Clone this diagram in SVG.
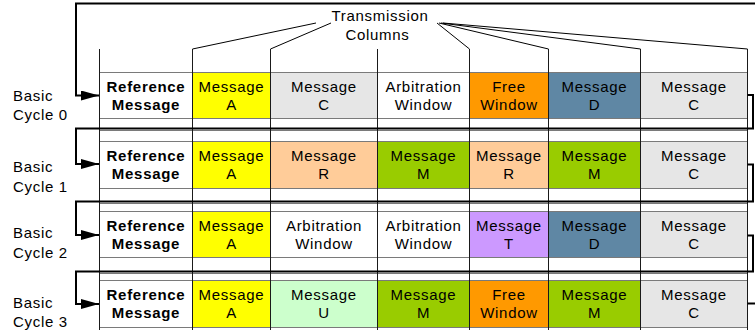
<svg xmlns="http://www.w3.org/2000/svg" width="755" height="330" viewBox="0 0 755 330">
  <style>
    text { font-family: "Liberation Sans", Arial, sans-serif; font-size: 15px; letter-spacing: 0.7px; fill: #000; }
    .c { text-anchor: middle; }
    .b { font-weight: bold; }
    .cell { stroke: #7a7a7a; stroke-width: 1; }
    .grid { stroke: #7a7a7a; stroke-width: 1; fill: none; }
    .col { stroke: #1a1a1a; stroke-width: 1; fill: none; }
    .lead { stroke: #000; stroke-width: 1; fill: none; }
    .loop { stroke: #000; stroke-width: 2; fill: none; }
    .white { fill: #ffffff; }
    .yellow { fill: #ffff00; }
    .grey { fill: #e6e6e6; }
    .orange { fill: #ff9900; }
    .blue { fill: #5f87a4; }
    .peach { fill: #ffcc99; }
    .green { fill: #99cc00; }
    .lilac { fill: #cc99ff; }
    .mint { fill: #ccffcc; }
  </style>
  <defs>
    <marker id="arrow" markerUnits="userSpaceOnUse" markerWidth="18" markerHeight="10" refX="18" refY="5" orient="auto">
      <path d="M0,0 L18,5 L0,10 z" fill="#000"/>
    </marker>
  </defs>

  <rect width="755" height="330" fill="#fff"/>

  <!-- row strips: horizontal borders of every cycle row -->
  <g id="rowlines">
    <line class="grid" x1="99.5" y1="118.5" x2="747.5" y2="118.5"/>
    <line class="grid" x1="99.5" y1="130.5" x2="747.5" y2="130.5"/>
    <line class="grid" x1="99.5" y1="188.5" x2="747.5" y2="188.5"/>
    <line class="grid" x1="99.5" y1="203.5" x2="747.5" y2="203.5"/>
    <line class="grid" x1="99.5" y1="257.5" x2="747.5" y2="257.5"/>
    <line class="grid" x1="99.5" y1="273.5" x2="747.5" y2="273.5"/>
  </g>

  <!-- Basic cycle 0 -->
  <g id="cycle0">
    <text x="13" y="100.7">Basic</text>
    <text x="13" y="120">Cycle 0</text>
    <g id="c0-ref"><rect class="cell white" x="99.5" y="72.5" width="93" height="46"/><text class="c b" x="146" y="91.5">Reference</text><text class="c b" x="146" y="110">Message</text></g>
    <g id="c0-a"><rect class="cell yellow" x="192.5" y="72.5" width="78" height="46"/><text class="c" x="231.5" y="91.5">Message</text><text class="c" x="231.5" y="110">A</text></g>
    <g id="c0-c"><rect class="cell grey" x="270.5" y="72.5" width="107" height="46"/><text class="c" x="324" y="91.5">Message</text><text class="c" x="324" y="110">C</text></g>
    <g id="c0-arb"><rect class="cell white" x="377.5" y="72.5" width="92" height="46"/><text class="c" x="423.5" y="91.5">Arbitration</text><text class="c" x="423.5" y="110">Window</text></g>
    <g id="c0-free"><rect class="cell orange" x="469.5" y="72.5" width="79" height="46"/><text class="c" x="509" y="91.5">Free</text><text class="c" x="509" y="110">Window</text></g>
    <g id="c0-d"><rect class="cell blue" x="548.5" y="72.5" width="92" height="46"/><text class="c" x="594.5" y="91.5">Message</text><text class="c" x="594.5" y="110">D</text></g>
    <g id="c0-c2"><rect class="cell grey" x="640.5" y="72.5" width="107" height="46"/><text class="c" x="694" y="91.5">Message</text><text class="c" x="694" y="110">C</text></g>
  </g>

  <!-- Basic cycle 1 -->
  <g id="cycle1">
    <text x="13" y="172.3">Basic</text>
    <text x="13" y="191.7">Cycle 1</text>
    <g id="c1-ref"><rect class="cell white" x="99.5" y="141.5" width="93" height="47"/><text class="c b" x="146" y="160.5">Reference</text><text class="c b" x="146" y="179.3">Message</text></g>
    <g id="c1-a"><rect class="cell yellow" x="192.5" y="141.5" width="78" height="47"/><text class="c" x="231.5" y="160.5">Message</text><text class="c" x="231.5" y="179.3">A</text></g>
    <g id="c1-r"><rect class="cell peach" x="270.5" y="141.5" width="107" height="47"/><text class="c" x="324" y="160.5">Message</text><text class="c" x="324" y="179.3">R</text></g>
    <g id="c1-m"><rect class="cell green" x="377.5" y="141.5" width="92" height="47"/><text class="c" x="423.5" y="160.5">Message</text><text class="c" x="423.5" y="179.3">M</text></g>
    <g id="c1-r2"><rect class="cell peach" x="469.5" y="141.5" width="79" height="47"/><text class="c" x="509" y="160.5">Message</text><text class="c" x="509" y="179.3">R</text></g>
    <g id="c1-m2"><rect class="cell green" x="548.5" y="141.5" width="92" height="47"/><text class="c" x="594.5" y="160.5">Message</text><text class="c" x="594.5" y="179.3">M</text></g>
    <g id="c1-c"><rect class="cell grey" x="640.5" y="141.5" width="107" height="47"/><text class="c" x="694" y="160.5">Message</text><text class="c" x="694" y="179.3">C</text></g>
  </g>

  <!-- Basic cycle 2 -->
  <g id="cycle2">
    <text x="13" y="238.3">Basic</text>
    <text x="13" y="257.7">Cycle 2</text>
    <g id="c2-ref"><rect class="cell white" x="99.5" y="211.5" width="93" height="46"/><text class="c b" x="146" y="230.5">Reference</text><text class="c b" x="146" y="249">Message</text></g>
    <g id="c2-a"><rect class="cell yellow" x="192.5" y="211.5" width="78" height="46"/><text class="c" x="231.5" y="230.5">Message</text><text class="c" x="231.5" y="249">A</text></g>
    <g id="c2-arb"><rect class="cell white" x="270.5" y="211.5" width="107" height="46"/><text class="c" x="324" y="230.5">Arbitration</text><text class="c" x="324" y="249">Window</text></g>
    <g id="c2-arb2"><rect class="cell white" x="377.5" y="211.5" width="92" height="46"/><text class="c" x="423.5" y="230.5">Arbitration</text><text class="c" x="423.5" y="249">Window</text></g>
    <g id="c2-t"><rect class="cell lilac" x="469.5" y="211.5" width="79" height="46"/><text class="c" x="509" y="230.5">Message</text><text class="c" x="509" y="249">T</text></g>
    <g id="c2-d"><rect class="cell blue" x="548.5" y="211.5" width="92" height="46"/><text class="c" x="594.5" y="230.5">Message</text><text class="c" x="594.5" y="249">D</text></g>
    <g id="c2-c"><rect class="cell grey" x="640.5" y="211.5" width="107" height="46"/><text class="c" x="694" y="230.5">Message</text><text class="c" x="694" y="249">C</text></g>
  </g>

  <!-- Basic cycle 3 -->
  <g id="cycle3">
    <text x="13" y="307.7">Basic</text>
    <text x="13" y="327">Cycle 3</text>
    <g id="c3-ref"><rect class="cell white" x="99.5" y="280.5" width="93" height="47"/><text class="c b" x="146" y="299.5">Reference</text><text class="c b" x="146" y="318.3">Message</text></g>
    <g id="c3-a"><rect class="cell yellow" x="192.5" y="280.5" width="78" height="47"/><text class="c" x="231.5" y="299.5">Message</text><text class="c" x="231.5" y="318.3">A</text></g>
    <g id="c3-u"><rect class="cell mint" x="270.5" y="280.5" width="107" height="47"/><text class="c" x="324" y="299.5">Message</text><text class="c" x="324" y="318.3">U</text></g>
    <g id="c3-m"><rect class="cell green" x="377.5" y="280.5" width="92" height="47"/><text class="c" x="423.5" y="299.5">Message</text><text class="c" x="423.5" y="318.3">M</text></g>
    <g id="c3-free"><rect class="cell orange" x="469.5" y="280.5" width="79" height="47"/><text class="c" x="509" y="299.5">Free</text><text class="c" x="509" y="318.3">Window</text></g>
    <g id="c3-m2"><rect class="cell green" x="548.5" y="280.5" width="92" height="47"/><text class="c" x="594.5" y="299.5">Message</text><text class="c" x="594.5" y="318.3">M</text></g>
    <g id="c3-c"><rect class="cell grey" x="640.5" y="280.5" width="107" height="47"/><text class="c" x="694" y="299.5">Message</text><text class="c" x="694" y="318.3">C</text></g>
  </g>

  <!-- transmission column boundaries -->
  <g id="columns">
    <line class="col" x1="99.5" y1="49" x2="99.5" y2="330"/>
    <line class="col" x1="192.5" y1="49" x2="192.5" y2="330"/>
    <line class="col" x1="270.5" y1="49" x2="270.5" y2="330"/>
    <line class="col" x1="377.5" y1="49" x2="377.5" y2="330"/>
    <line class="col" x1="469.5" y1="49" x2="469.5" y2="330"/>
    <line class="col" x1="548.5" y1="49" x2="548.5" y2="330"/>
    <line class="col" x1="640.5" y1="49" x2="640.5" y2="330"/>
    <line class="col" x1="747.5" y1="49" x2="747.5" y2="330"/>
  </g>

  <!-- column caption with leader lines -->
  <g id="caption">
    <text class="c" x="380" y="20.5">Transmission</text>
    <text class="c" x="377.5" y="39.5">Columns</text>
    <line class="lead" x1="316" y1="23" x2="192.5" y2="49"/>
    <line class="lead" x1="331" y1="23" x2="270.5" y2="49"/>
    <line class="lead" x1="437" y1="23" x2="469.5" y2="49"/>
    <line class="lead" x1="439" y1="23" x2="548.5" y2="49"/>
    <line class="lead" x1="441" y1="23" x2="640.5" y2="49"/>
    <line class="lead" x1="443" y1="23" x2="747.5" y2="49"/>
  </g>

  <!-- cycle sequencing connectors -->
  <g id="connectors">
    <path class="loop" d="M755,3.5 H76 V95.5 H99" marker-end="url(#arrow)"/>
    <path class="loop" d="M747.5,95 H753 V128.5 H76 V164 H99" marker-end="url(#arrow)"/>
    <path class="loop" d="M747.5,164.5 H753 V201.5 H76 V235 H99" marker-end="url(#arrow)"/>
    <path class="loop" d="M747.5,235.5 H753 V271.5 H76 V304 H99" marker-end="url(#arrow)"/>
    <path class="loop" d="M747.5,303.5 H755"/>
  </g>
</svg>
